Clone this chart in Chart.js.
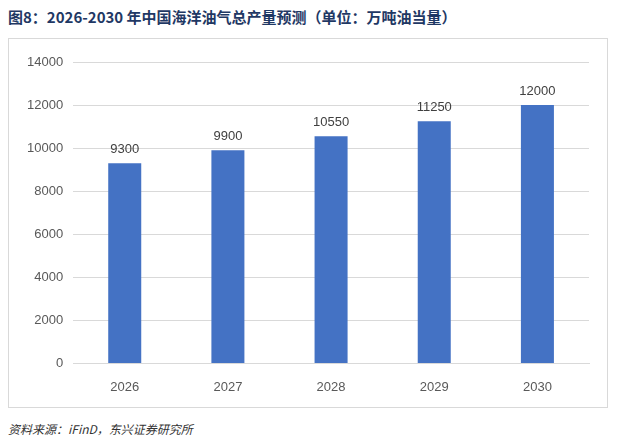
<!DOCTYPE html>
<html><head><meta charset="utf-8">
<script src="https://cdn.jsdelivr.net/npm/chart.js@4"></script>
<style>
body{margin:0;background:#fff;font-family:"Noto Sans CJK SC","Liberation Sans",sans-serif;}
#title{position:absolute;left:8px;top:6px;font-size:15px;font-weight:bold;color:#1f3864;}
#box{position:absolute;left:8px;top:38px;width:600px;height:370px;border:1px solid #d9d9d9;box-sizing:border-box;}
#src{position:absolute;left:8px;top:420px;font-size:12px;font-style:italic;color:#333;}
</style></head><body>
<div id="title">图8：2026-2030 年中国海洋油气总产量预测（单位：万吨油当量）</div>
<div id="box"><canvas id="c"></canvas></div>
<div id="src">资料来源：iFinD，东兴证券研究所</div>
<script>
const years = ['2026', '2027', '2028', '2029', '2030'];
const output = [9300, 9900, 10550, 11250, 12000];

const valueLabels = {
    id: 'valueLabels',
    afterDatasetsDraw(chart) {
        const ctx = chart.ctx;
        ctx.save();
        ctx.font = '13px "Liberation Sans", sans-serif';
        ctx.fillStyle = '#404040';
        ctx.textAlign = 'center';
        chart.getDatasetMeta(0).data.forEach((bar, i) => {
            ctx.fillText(output[i], bar.x, bar.y - 10);
        });
        ctx.restore();
    }
};

new Chart(document.getElementById('c'), {
    type: 'bar',
    data: {
        labels: years,
        datasets: [{ data: output, backgroundColor: '#4472c4', barPercentage: 0.32, categoryPercentage: 1 }]
    },
    options: {
        responsive: true, maintainAspectRatio: false, animation: false,
        layout: { padding: { left: 8, right: 18, top: 23, bottom: 4 } },
        plugins: { legend: { display: false }, tooltip: { enabled: false } },
        scales: {
            y: {
                min: 0, max: 14000,
                ticks: { stepSize: 2000, color: '#595959', font: { size: 13, family: 'Liberation Sans' }, padding: 10,
                         callback: v => String(v) },
                grid: { color: '#d9d9d9', drawTicks: false },
                border: { display: false }
            },
            x: {
                ticks: { color: '#595959', font: { size: 13, family: 'Liberation Sans' }, padding: 8 },
                grid: { display: false },
                border: { color: '#d9d9d9' }
            }
        }
    },
    plugins: [valueLabels]
});
</script>
</body></html>
